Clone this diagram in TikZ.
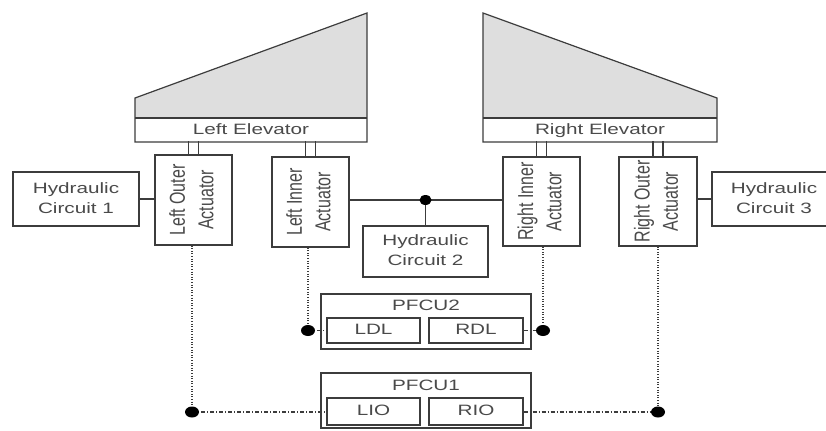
\documentclass[tikz,border=0pt]{standalone}
\usepackage{fontspec}
\setmainfont{Liberation Sans}
\usepackage{graphicx}
\definecolor{linec}{HTML}{3C3C3C}
\definecolor{textc}{HTML}{4A4A4A}
\definecolor{wingc}{HTML}{DEDEDE}
% wide horizontal labels and upright (rotated) actuator labels
\newcommand\widelabel[1]{\scalebox{1.38}[1]{\begin{tabular}{@{}c@{}}#1\end{tabular}}}
\newcommand\uplabel[1]{\rotatebox{90}{\scalebox{1}[1.35]{\begin{tabular}{@{}c@{}}#1\end{tabular}}}}

\begin{document}
\begin{tikzpicture}[x=1bp,y=-1bp,
  box/.style={draw=linec,line width=1.3bp,fill=white,inner sep=0pt,text=textc,
    font=\fontsize{15bp}{20bp}\selectfont},
  actbox/.style={box,minimum width=77bp,minimum height=89bp,
    font=\fontsize{16bp}{21bp}\selectfont},
  lbl/.style={inner sep=0pt,text=textc,font=\fontsize{15bp}{20bp}\selectfont},
  wire/.style={draw=linec,line width=1.2bp},
  signal/.style={draw=linec,line width=1.1bp,dash pattern=on 1bp off 1.6bp},
  bus/.style={draw=linec,line width=1.1bp,dash pattern=on 4bp off 2bp on 1bp off 2bp}]
\useasboundingbox (0,0) rectangle (826,430);
\clip (0,0) rectangle (826,430);

% elevators
\fill[wingc] (135,98) -- (367,13) -- (367,118) -- (135,118) -- cycle;
\draw[wire] (135,98) -- (367,13) -- (367,142) -- (135,142) -- cycle;
\draw[wire] (135,118) -- (367,118);
\node[lbl] (lelev) at (251,130) {\widelabel{Left Elevator}};

\fill[wingc] (483,13) -- (717,98) -- (717,118) -- (483,118) -- cycle;
\draw[wire] (483,13) -- (717,98) -- (717,142) -- (483,142) -- cycle;
\draw[wire] (483,118) -- (717,118);
\node[lbl] (relev) at (600,130) {\widelabel{Right Elevator}};

% actuators
\node[actbox,minimum height=90bp] (LO) at (193.5,200) {\uplabel{Left Outer\\Actuator}};
\node[actbox,minimum height=90bp] (LI) at (310.5,202) {\uplabel{Left Inner\\Actuator}};
\node[actbox] (RI) at (541.5,201.5) {\uplabel{Right Inner\\Actuator}};
\node[actbox,minimum width=78bp] (RO) at (658,201.5) {\uplabel{Right Outer\\Actuator}};

% actuator rods
\foreach \a/\h in {LO/13,LI/15,RI/15,RO/15}{
  \draw[wire] ([xshift=-5bp]\a.north) -- ++(0,-\h);
  \draw[wire] ([xshift=5bp]\a.north) -- ++(0,-\h);
}

% hydraulic circuits
\node[box,minimum width=126bp,minimum height=54bp] (H1) at (76,199) {\widelabel{Hydraulic\\Circuit 1}};
\node[box,minimum width=125bp,minimum height=51bp] (H2) at (425.5,251.5) {\widelabel{Hydraulic\\Circuit 2}};
\node[box,minimum width=124bp,minimum height=54bp] (H3) at (774,199) {\widelabel{Hydraulic\\Circuit 3}};

\draw[wire] (H1.east) -- (H1.east -| LO.west);
\draw[wire] (H3.west -| RO.east) -- (H3.west);
\coordinate (j) at (425.5,200);
\draw[wire] (LI.east |- j) -- (RI.west |- j);
\draw[wire] (j) -- (j |- H2.north);
\fill[black] (j) ellipse [x radius=6bp, y radius=5bp];

% flight control units
\node[box,minimum width=210bp,minimum height=55bp] (P2) at (426,321.5) {};
\node[lbl] (P2t) at (426,306) {\widelabel{PFCU2}};
\node[box,minimum width=93bp,minimum height=25bp] (LDL) at (373.5,330.5) {\widelabel{LDL}};
\node[box,minimum width=94bp,minimum height=25bp] (RDL) at (476,330.5) {\widelabel{RDL}};

\node[box,minimum width=210bp,minimum height=55bp] (P1) at (426,400.5) {};
\node[lbl] (P1t) at (426,386) {\widelabel{PFCU1}};
\node[box,minimum width=93bp,minimum height=27bp] (LIO) at (373.5,411.5) {\widelabel{LIO}};
\node[box,minimum width=94bp,minimum height=27bp] (RIO) at (476,411.5) {\widelabel{RIO}};

% signal links
\coordinate (dLO) at (192,412);
\coordinate (dLI) at (308,330.5);
\coordinate (dRI) at (543,330.5);
\coordinate (dRO) at (658,412);
\draw[signal] (LO.south -| dLO) -- (dLO);
\draw[signal] (LI.south -| dLI) -- (dLI);
\draw[signal] (RI.south -| dRI) -- (dRI);
\draw[signal] (RO.south -| dRO) -- (dRO);
\draw[bus] (dLI) -- (LDL.west);
\draw[bus] (RDL.east) -- (dRI);
\draw[bus] (dLO) -- (dLO -| LIO.west);
\draw[bus] (dRO -| RIO.east) -- (dRO);
\foreach \d in {dLO,dLI,dRI,dRO}
  \fill[black] (\d) ellipse [x radius=7bp, y radius=5.5bp];
\end{tikzpicture}
\end{document}
